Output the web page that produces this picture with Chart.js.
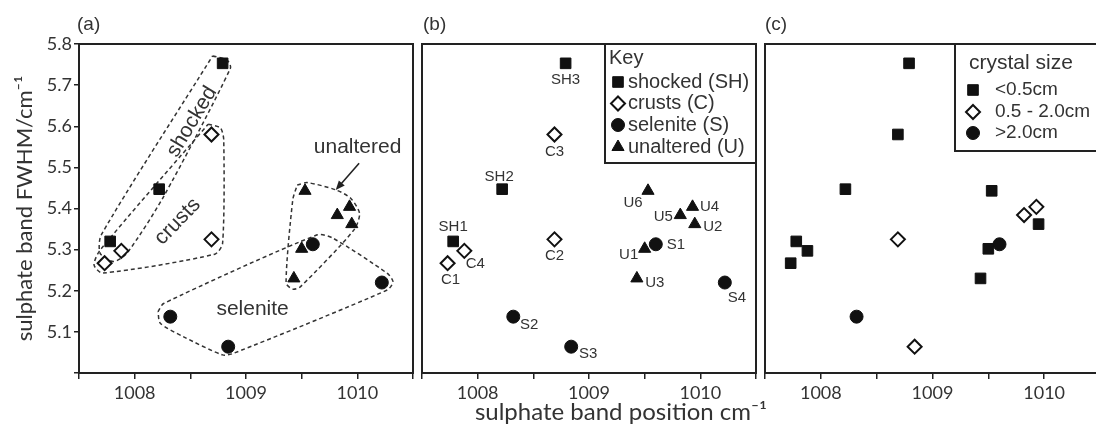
<!DOCTYPE html>
<html>
<head>
<meta charset="utf-8">
<script src="https://cdn.jsdelivr.net/npm/chart.js@4.4.1/dist/chart.umd.min.js"></script>
<style>
  html, body { margin: 0; padding: 0; background: #fff; }
  #figure { position: relative; width: 1096px; height: 427px; overflow: hidden; background: #fff; }
  #figure canvas { position: absolute; top: 0; }
</style>
</head>
<body>
<div id="figure">
  <canvas id="panelA" width="418" height="427" style="left:0px"></canvas>
  <canvas id="panelB" width="370" height="427" style="left:412px"></canvas>
  <canvas id="panelC" width="345" height="427" style="left:755px"></canvas>
</div>
<script>
const sampleIds = ['SH1', 'SH2', 'SH3', 'C1', 'C2', 'C3', 'C4', 'S1', 'S2', 'S3', 'S4', 'U1', 'U2', 'U3', 'U4', 'U5', 'U6'];
const bandPosition = [1007.78, 1008.22, 1008.79, 1007.73, 1008.69, 1008.69, 1007.88, 1009.60, 1008.32, 1008.84, 1010.22, 1009.50, 1009.95, 1009.43, 1009.93, 1009.82, 1009.53];
const bandFwhm = [5.320, 5.447, 5.753, 5.267, 5.325, 5.580, 5.297, 5.313, 5.137, 5.064, 5.220, 5.302, 5.362, 5.230, 5.404, 5.384, 5.443];

const sampleTypes = ['shocked (SH)', 'crusts (C)', 'selenite (S)', 'unaltered (U)'];
const typePrefixes = ['SH', 'C', 'S', 'U'];

const crystalSizes = ['<0.5cm', '0.5 - 2.0cm', '>2.0cm'];
// crystal size of each sample, same order as sampleIds (S4 is not in panel c)
const sampleSize = ['<0.5cm', '<0.5cm', '<0.5cm', '<0.5cm', '0.5 - 2.0cm', '<0.5cm', '<0.5cm', '>2.0cm', '>2.0cm', '0.5 - 2.0cm', null, '<0.5cm', '<0.5cm', '<0.5cm', '0.5 - 2.0cm', '0.5 - 2.0cm', '<0.5cm'];

const xTickLabels = ['1008', '1009', '1010'];
const yTickLabels = ['5.1', '5.2', '5.3', '5.4', '5.5', '5.6', '5.7', '5.8'];

// hand drawn group outlines of panel (a), in data units
const shockedOutline = [[1008.70, 5.771], [1008.83, 5.761], [1008.86, 5.741], [1008.26, 5.429], [1007.93, 5.291], [1007.81, 5.271], [1007.69, 5.291], [1007.70, 5.336]];
const crustsOutline = [[1008.66, 5.605], [1008.77, 5.596], [1008.80, 5.567], [1008.79, 5.316], [1008.72, 5.289], [1007.71, 5.243], [1007.635, 5.263], [1007.69, 5.299]];
const unalteredOutline = [[1009.46, 5.457], [1009.55, 5.463], [1009.81, 5.445], [1009.94, 5.425], [1010.02, 5.388], [1009.97, 5.348], [1009.49, 5.210], [1009.42, 5.204], [1009.36, 5.219], [1009.42, 5.421]];
const seleniteOutline = [[1008.21, 5.149], [1008.26, 5.169], [1009.64, 5.336], [1009.78, 5.328], [1010.27, 5.242], [1010.32, 5.222], [1010.27, 5.202], [1008.89, 5.048], [1008.79, 5.044], [1008.44, 5.088], [1008.23, 5.121]];

// ---- styles ----
const INK = '#111';
const TEXT = '#333';
const AXIS = '#222';
const TICK_FONT = { family: 'Lato, "Open Sans", sans-serif', size: 18 };
const LABEL_FAMILY = '"Liberation Sans", Arial, sans-serif';

const typeMarkers = {
  SH: { pointStyle: 'rect', radius: 7.5, fill: INK, border: 1 },
  C: { pointStyle: 'rectRot', radius: 7, fill: '#fff', border: 2 },
  S: { pointStyle: 'circle', radius: 6.5, fill: INK, border: 1 },
  U: { pointStyle: 'triangle', radius: 7, fill: INK, border: 1 }
};
const sizeMarkers = {
  '<0.5cm': typeMarkers.SH,
  '0.5 - 2.0cm': typeMarkers.C,
  '>2.0cm': typeMarkers.S
};

// where each sample name sits relative to its point in panel (b)
const pointLabelOffsets = {
  SH1: [0, -15], SH2: [-3, -12], SH3: [0, 17],
  C1: [3, 17], C2: [0, 17], C3: [0, 17], C4: [11, 13],
  S1: [20, 1], S2: [16, 8], S3: [17, 7], S4: [12, 15],
  U1: [-16, 6], U2: [18, 3], U3: [18, 4], U4: [17, 0], U5: [-17, 2], U6: [-15, 12]
};

const typeOf = (id) => id.replace(/\d+$/, '');
const pointAt = (i) => ({ x: bandPosition[i], y: bandFwhm[i], id: sampleIds[i] });

function markerDataset(label, marker, indexes) {
  return {
    label: label,
    data: indexes.map(pointAt),
    pointStyle: marker.pointStyle,
    pointRadius: marker.radius,
    pointHoverRadius: marker.radius,
    pointBackgroundColor: marker.fill,
    pointBorderColor: INK,
    pointBorderWidth: marker.border,
    order: 0
  };
}

function typeDatasets() {
  return typePrefixes.map((p, k) => {
    const idx = sampleIds.map((id, i) => i).filter((i) => typeOf(sampleIds[i]) === p);
    return markerDataset(sampleTypes[k], typeMarkers[p], idx);
  });
}

function sizeDatasets() {
  return crystalSizes.map((size) => {
    const idx = sampleIds.map((id, i) => i).filter((i) => sampleSize[i] === size);
    return markerDataset(size, sizeMarkers[size], idx);
  });
}

function outlineDataset(points) {
  return {
    data: points.concat([points[0]]).map((p) => ({ x: p[0], y: p[1] })),
    showLine: true,
    borderColor: '#333',
    borderWidth: 1.5,
    borderDash: [4, 3],
    pointRadius: 0,
    pointHoverRadius: 0,
    tension: 0.25,
    fill: false,
    order: 2
  };
}

function xScale() {
  return {
    type: 'linear',
    min: 1007.5,
    max: 1010.5,
    afterFit: (s) => {
      s.height = 54;
      s.paddingLeft = 0;
      s.paddingRight = 0;
    },
    ticks: {
      stepSize: 0.5,
      autoSkip: false,
      maxRotation: 0,
      padding: 3,
      color: TEXT,
      font: TICK_FONT,
      callback: (v) => {
        const t = String(Math.round(v));
        return Math.abs(v - Math.round(v)) < 1e-6 && xTickLabels.includes(t) ? t : '';
      }
    },
    grid: { display: true, drawOnChartArea: false, drawTicks: true, tickLength: 6, color: AXIS, lineWidth: 1.5 },
    border: { display: false }
  };
}

function yScaleLabelled() {
  return {
    type: 'linear',
    min: 5.0,
    max: 5.8,
    afterFit: (s) => {
      s.width = 79;
      s.paddingTop = 0;
      s.paddingBottom = 0;
    },
    ticks: {
      stepSize: 0.1,
      autoSkip: false,
      padding: 2,
      color: TEXT,
      font: TICK_FONT,
      callback: (v) => {
        const t = Number(v).toFixed(1);
        return yTickLabels.includes(t) ? t : '';
      }
    },
    grid: { display: true, drawOnChartArea: false, drawTicks: true, tickLength: 5, color: AXIS, lineWidth: 1.5 },
    border: { display: false },
    title: {
      display: true,
      text: 'sulphate band FWHM/cm\u207B\u00B9',
      color: TEXT,
      font: { family: 'Lato, "Open Sans", sans-serif', size: 22 },
      padding: { top: 12, bottom: 0 }
    }
  };
}

function yScaleBare() {
  return { type: 'linear', display: false, min: 5.0, max: 5.8 };
}

function drawMarker(ctx, marker, x, y) {
  const r = marker.radius;
  ctx.save();
  ctx.fillStyle = marker.fill;
  ctx.strokeStyle = INK;
  ctx.lineWidth = marker.border;
  ctx.beginPath();
  if (marker.pointStyle === 'rect') {
    const h = r * Math.SQRT1_2;
    ctx.rect(x - h, y - h, 2 * h, 2 * h);
  } else if (marker.pointStyle === 'rectRot') {
    ctx.moveTo(x, y - r); ctx.lineTo(x + r, y); ctx.lineTo(x, y + r); ctx.lineTo(x - r, y); ctx.closePath();
  } else if (marker.pointStyle === 'triangle') {
    for (let k = 0; k < 3; k++) {
      const a = k * 2 * Math.PI / 3;
      const px = x + Math.sin(a) * r, py = y - Math.cos(a) * r;
      if (k === 0) ctx.moveTo(px, py); else ctx.lineTo(px, py);
    }
    ctx.closePath();
  } else {
    ctx.arc(x, y, r, 0, Math.PI * 2);
  }
  ctx.fill();
  ctx.stroke();
  ctx.restore();
}

const framePlugin = {
  id: 'frame',
  beforeDatasetsDraw(chart) {
    const { ctx, chartArea: a } = chart;
    ctx.save();
    ctx.strokeStyle = AXIS;
    ctx.lineWidth = 2;
    ctx.strokeRect(a.left, a.top, a.right - a.left, a.bottom - a.top);
    ctx.restore();
  }
};

function panelLabel(text, dx) {
  return {
    id: 'panelLabel',
    afterDraw(chart) {
      const { ctx, chartArea: a } = chart;
      ctx.save();
      ctx.fillStyle = TEXT;
      ctx.font = '19px ' + LABEL_FAMILY;
      ctx.textAlign = 'left';
      ctx.textBaseline = 'middle';
      ctx.fillText(text, a.left + dx, 25);
      ctx.restore();
    }
  };
}

// key box drawn in the top right corner of the plot area
function keyPlugin(opts) {
  return {
    id: 'keyBox',
    afterDatasetsDraw(chart) {
      const { ctx, chartArea: a } = chart;
      const left = a.left + opts.left;
      const top = a.top;
      ctx.save();
      ctx.fillStyle = '#fff';
      ctx.fillRect(left, top, a.right - left, opts.height);
      ctx.strokeStyle = AXIS;
      ctx.lineWidth = 2;
      ctx.strokeRect(left, top, a.right - left, opts.height);
      ctx.fillStyle = TEXT;
      ctx.textAlign = 'left';
      ctx.textBaseline = 'middle';
      ctx.font = opts.titleSize + 'px ' + LABEL_FAMILY;
      ctx.fillText(opts.title, left + opts.titleX, top + opts.titleY);
      ctx.font = opts.entrySize + 'px ' + LABEL_FAMILY;
      opts.entries.forEach((e, k) => {
        const y = top + opts.rows[k];
        drawMarker(ctx, e.marker, left + opts.markerX, y);
        ctx.fillStyle = TEXT;
        ctx.fillText(e.text, left + opts.textX, y);
      });
      ctx.restore();
    }
  };
}

const pointLabelsPlugin = {
  id: 'pointLabels',
  afterDatasetsDraw(chart) {
    const { ctx } = chart;
    ctx.save();
    ctx.fillStyle = TEXT;
    ctx.font = '15px ' + LABEL_FAMILY;
    ctx.textAlign = 'center';
    ctx.textBaseline = 'middle';
    chart.data.datasets.forEach((ds, d) => {
      const meta = chart.getDatasetMeta(d);
      ds.data.forEach((p, i) => {
        const off = pointLabelOffsets[p.id];
        if (!off) return;
        const el = meta.data[i];
        ctx.fillText(p.id, el.x + off[0], el.y + off[1]);
      });
    });
    ctx.restore();
  }
};

// words and arrow written over panel (a)
const groupNotes = [
  { text: 'shocked', x: 1008.515, y: 5.611, rotation: -59 },
  { text: 'crusts', x: 1008.386, y: 5.368, rotation: -46 },
  { text: 'unaltered', x: 1010.002, y: 5.550, rotation: 0 },
  { text: 'selenite', x: 1009.059, y: 5.156, rotation: 0 }
];
const unalteredArrow = { from: [1010.016, 5.510], to: [1009.806, 5.445] };

const notesPlugin = {
  id: 'groupNotes',
  afterDatasetsDraw(chart) {
    const { ctx, scales } = chart;
    ctx.save();
    ctx.fillStyle = TEXT;
    ctx.font = '21px ' + LABEL_FAMILY;
    ctx.textAlign = 'center';
    ctx.textBaseline = 'middle';
    groupNotes.forEach((n) => {
      ctx.save();
      ctx.translate(scales.x.getPixelForValue(n.x), scales.y.getPixelForValue(n.y));
      ctx.rotate(n.rotation * Math.PI / 180);
      ctx.fillText(n.text, 0, 0);
      ctx.restore();
    });
    const x1 = scales.x.getPixelForValue(unalteredArrow.from[0]);
    const y1 = scales.y.getPixelForValue(unalteredArrow.from[1]);
    const x2 = scales.x.getPixelForValue(unalteredArrow.to[0]);
    const y2 = scales.y.getPixelForValue(unalteredArrow.to[1]);
    const ang = Math.atan2(y2 - y1, x2 - x1);
    ctx.strokeStyle = '#222';
    ctx.lineWidth = 1.6;
    ctx.beginPath();
    ctx.moveTo(x1, y1);
    ctx.lineTo(x2 - Math.cos(ang) * 6, y2 - Math.sin(ang) * 6);
    ctx.stroke();
    ctx.fillStyle = '#222';
    ctx.beginPath();
    ctx.moveTo(x2, y2);
    ctx.lineTo(x2 - Math.cos(ang - 0.4) * 10, y2 - Math.sin(ang - 0.4) * 10);
    ctx.lineTo(x2 - Math.cos(ang + 0.4) * 10, y2 - Math.sin(ang + 0.4) * 10);
    ctx.closePath();
    ctx.fill();
    ctx.restore();
  }
};

const xTitlePlugin = {
  id: 'xTitle',
  afterDraw(chart) {
    const { ctx, chartArea: a } = chart;
    ctx.save();
    ctx.fillStyle = TEXT;
    ctx.font = '24px Lato, "Open Sans", sans-serif';
    ctx.textAlign = 'center';
    ctx.textBaseline = 'middle';
    ctx.fillText('sulphate band position cm\u207B\u00B9', a.left + 199, 412);
    ctx.restore();
  }
};

function baseOptions(yScale, padding) {
  return {
    responsive: false,
    animation: false,
    events: [],
    layout: { padding: padding, autoPadding: false },
    plugins: { legend: { display: false }, tooltip: { enabled: false } },
    scales: { x: xScale(), y: yScale }
  };
}

// (a) groups with outlines
new Chart(document.getElementById('panelA'), {
  type: 'scatter',
  data: {
    datasets: typeDatasets().concat([
      outlineDataset(shockedOutline),
      outlineDataset(crustsOutline),
      outlineDataset(unalteredOutline),
      outlineDataset(seleniteOutline)
    ])
  },
  options: baseOptions(yScaleLabelled(), { top: 44, right: 5, left: 0, bottom: 0 }),
  plugins: [framePlugin, notesPlugin, panelLabel('(a)', -2)]
});

// (b) labelled samples with key
new Chart(document.getElementById('panelB'), {
  type: 'scatter',
  data: { datasets: typeDatasets() },
  options: baseOptions(yScaleBare(), { top: 44, right: 26, left: 10, bottom: 0 }),
  plugins: [framePlugin, pointLabelsPlugin, xTitlePlugin, panelLabel('(b)', 1),
    keyPlugin({
      left: 183, height: 119, title: 'Key', titleSize: 20, titleX: 4, titleY: 14,
      entrySize: 20, markerX: 13, textX: 23, rows: [38, 59.5, 81, 103],
      entries: typePrefixes.map((p, k) => ({ marker: typeMarkers[p], text: sampleTypes[k] }))
    })]
});

// (c) by crystal size
new Chart(document.getElementById('panelC'), {
  type: 'scatter',
  data: { datasets: sizeDatasets() },
  options: baseOptions(yScaleBare(), { top: 44, right: 0, left: 10, bottom: 0 }),
  plugins: [framePlugin, panelLabel('(c)', 0),
    keyPlugin({
      left: 190, height: 107, title: 'crystal size', titleSize: 21, titleX: 14, titleY: 19,
      entrySize: 19, markerX: 18, textX: 40, rows: [46, 68, 89],
      entries: crystalSizes.map((s) => ({ marker: sizeMarkers[s], text: s }))
    })]
});
</script>
</body>
</html>
